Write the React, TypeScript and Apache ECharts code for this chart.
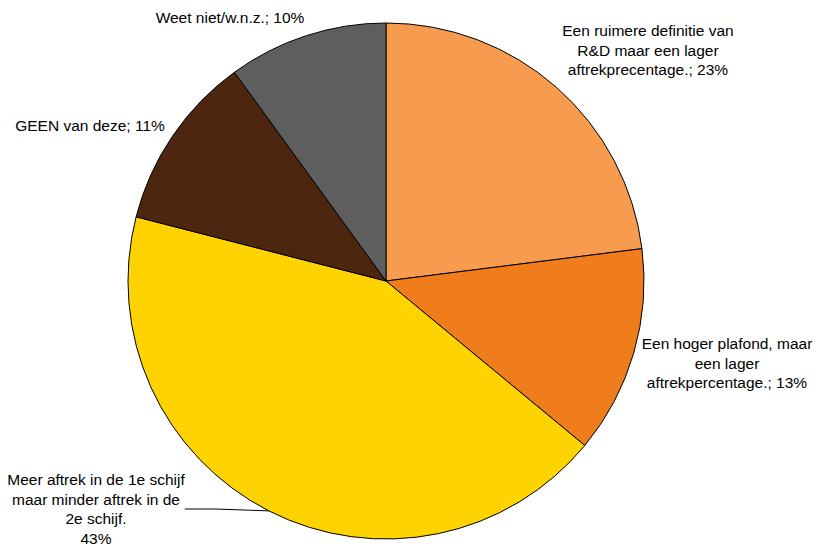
import React, { useEffect, useRef } from "react";
import * as echarts from "echarts";

const categories = [
  "Een ruimere definitie van\nR&D maar een lager\naftrekprecentage.",
  "Een hoger plafond, maar\neen lager\naftrekpercentage.",
  "Meer aftrek in de 1e schijf\nmaar minder aftrek in de\n2e schijf.",
  "GEEN van deze",
  "Weet niet/w.n.z.",
];
const values = [23, 13, 43, 11, 10];
const separators = ["; ", "; ", "\n", "; ", "; "];
const colors = ["#F79C4F", "#F07D1B", "#FFD300", "#4D2610", "#5E5E5E"];
const labelPositions: [number, number][] = [
  [648, 50],
  [727, 363],
  [96, 509],
  [90, 125],
  [230, 17],
];

export default function App() {
  const ref = useRef<HTMLDivElement>(null);
  useEffect(() => {
    document.body.style.margin = "0";
    const chart = echarts.init(ref.current!, undefined, { renderer: "svg" });
    chart.setOption({
      animation: false,
      backgroundColor: "#ffffff",
      series: [
        {
          type: "pie",
          center: [386, 281],
          radius: 258,
          startAngle: 90,
          clockwise: true,
          avoidLabelOverlap: false,
          itemStyle: { borderColor: "#000000", borderWidth: 1 },
          label: {
            show: true,
            position: "outside",
            color: "#000000",
            fontFamily: "Liberation Sans, Arial, sans-serif",
            fontSize: 15.5,
            lineHeight: 19.5,
            align: "center",
            formatter: (p: any) => p.name + separators[p.dataIndex] + p.value + "%",
          },
          labelLine: { show: false },
          labelLayout: (p: any) => {
            const pos = labelPositions[p.dataIndex];
            return { x: pos[0], y: pos[1], align: "center", verticalAlign: "middle" };
          },
          data: categories.map((c, i) => ({
            name: c,
            value: values[i],
            itemStyle: { color: colors[i] },
            labelLine:
              i === 2
                ? { show: true, lineStyle: { color: "#000000", width: 1 } }
                : { show: false },
          })),
        },
      ],
    });
    return () => chart.dispose();
  }, []);
  return <div ref={ref} style={{ width: 818, height: 548 }} />;
}
